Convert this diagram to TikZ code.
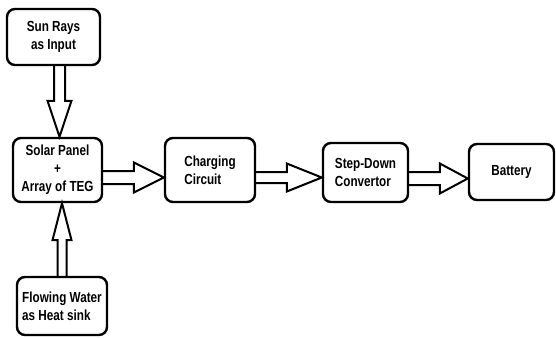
\documentclass[tikz,border=0pt]{standalone}
\usepackage{fontspec}
\setmainfont{Liberation Sans}
\usetikzlibrary{calc}

\tikzset{
  block/.style={draw, line width=2.4pt, rounded corners=8pt, inner sep=0pt,
    font=\bfseries\fontsize{11.7}{18}\selectfont},
  fat/.style={draw, line width=2pt, line join=miter},
}

% taller lettering, as in the drawing
\newcommand{\tall}[1]{\scalebox{1}[1.25]{#1}}

% open block arrow: from, to, shaft half width, head length, head half width
\newcommand{\fatarrow}[5]{%
  \coordinate (fa-s) at (#1);
  \coordinate (fa-e) at (#2);
  \coordinate (fa-h) at ($(fa-e)!#4pt!(fa-s)$);
  \draw[fat] ($(fa-s)!#3pt!90:(fa-e)$) -- ($(fa-h)!#3pt!-90:(fa-s)$)
    -- ($(fa-h)!#5pt!-90:(fa-s)$) -- (fa-e) -- ($(fa-h)!#5pt!90:(fa-s)$)
    -- ($(fa-h)!#3pt!90:(fa-s)$) -- ($(fa-s)!#3pt!-90:(fa-e)$);
}

\begin{document}
\begin{tikzpicture}[x=1pt, y=-1pt]
\useasboundingbox (0,0) rectangle (556,337);

\node[block, minimum width=93pt, minimum height=56pt, align=center] (sun) at (53.5,37) {\tall{Sun Rays}\\\tall{as Input}};
\node[block, minimum width=89pt, minimum height=64pt, align=center] (solar) at (57.5,170) {\tall{Solar Panel}\\\tall{+}\\\tall{Array of TEG}};
\node[block, minimum width=90pt, minimum height=64pt, align=left] (charging) at (210,170) {\tall{Charging}\\\tall{Circuit}};
\node[block, minimum width=85pt, minimum height=59pt, align=left] (stepdown) at (365.5,172.5) {\tall{Step-Down}\\\tall{Convertor}};
\node[block, minimum width=85pt, minimum height=56pt] (battery) at (511.5,172) {\tall{Battery}};
\node[block, minimum width=90pt, minimum height=58pt, align=left] (water) at (62,306) {\tall{Flowing Water}\\\tall{as Heat sink}};

\coordinate (sunout) at ($(sun.south)+(6,0)$);
\fatarrow{sunout}{sunout |- solar.north}{5.5}{36}{12}
\fatarrow{water.north}{water.north |- solar.south}{4.5}{37}{9.5}
\coordinate (solarout) at ($(solar.east)+(0,7.5)$);
\fatarrow{solarout}{solarout -| charging.west}{6.5}{30}{15}
\coordinate (chargeout) at ($(charging.east)+(0,7.5)$);
\fatarrow{chargeout}{chargeout -| stepdown.west}{5.5}{35}{14}
\coordinate (stepout) at ($(stepdown.east)+(0,6)$);
\fatarrow{stepout}{stepout -| battery.west}{6.5}{28}{15}

\end{tikzpicture}
\end{document}
